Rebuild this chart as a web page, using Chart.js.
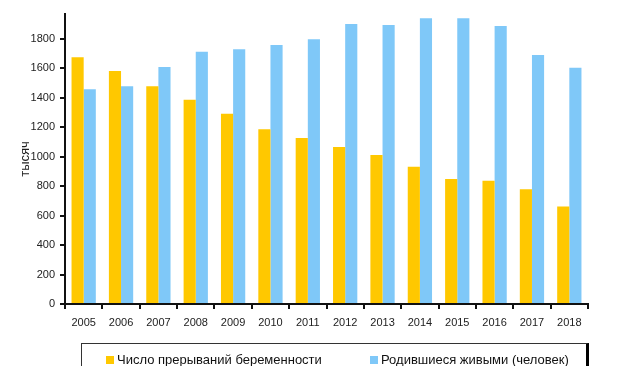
<!DOCTYPE html>
<html>
<head>
<meta charset="utf-8">
<script src="https://cdn.jsdelivr.net/npm/chart.js@4"></script>
<style>
  html, body { margin: 0; padding: 0; background: #fff; }
  #wrap { position: relative; width: 624px; height: 381px; overflow: hidden; }
  #c { position: absolute; left: 0; top: 0; }
  #legend {
    position: absolute; left: 81px; top: 343px; width: 508px; height: 30px;
    border-top: 1px solid #333; border-left: 1px solid #333; border-right: 3px solid #000;
    box-sizing: border-box;
    font-family: "Liberation Sans", Arial, sans-serif; font-size: 13px; color: #111;
  }
  #cut { position: absolute; left: 0; top: 366px; width: 624px; height: 15px; background: #fff; }
  .item { position: absolute; top: 8px; white-space: nowrap; line-height: 15px; }
  .sw { display: inline-block; width: 8px; height: 8px; margin-right: 3px; vertical-align: 0px; }
</style>
</head>
<body>
<div id="wrap">
  <canvas id="c" width="624" height="381"></canvas>
  <div id="legend">
    <div class="item" style="left:24px"><span class="sw" id="sw0"></span><span id="lg0"></span></div>
    <div class="item" style="left:288px"><span class="sw" id="sw1"></span><span id="lg1"></span></div>
  </div>
  <div id="cut"></div>
</div>
<script>
const years = ['2005','2006','2007','2008','2009','2010','2011','2012','2013','2014','2015','2016','2017','2018'];
const abortions = [1676, 1583, 1479, 1388, 1293, 1187, 1128, 1067, 1012, 933, 849, 838, 779, 662];
const births = [1458, 1479, 1610, 1714, 1730, 1759, 1798, 1902, 1895, 1941, 1941, 1888, 1691, 1605];
const yTicks = [0, 200, 400, 600, 800, 1000, 1200, 1400, 1600, 1800];
const seriesNames = ['Число прерываний беременности', 'Родившиеся живыми (человек)'];
const yTitle = 'тысяч';
const colors = ['#FFC800', '#7FC8F8'];

document.getElementById('lg0').textContent = seriesNames[0];
document.getElementById('lg1').textContent = seriesNames[1];
document.getElementById('sw0').style.background = colors[0];
document.getElementById('sw1').style.background = colors[1];

const font = { family: '"Liberation Sans", Arial, sans-serif', size: 11 };

new Chart(document.getElementById('c'), {
  type: 'bar',
  data: {
    labels: years,
    datasets: [
      { label: seriesNames[0], data: abortions, backgroundColor: colors[0], categoryPercentage: 0.65, barPercentage: 1.0 },
      { label: seriesNames[1], data: births, backgroundColor: colors[1], categoryPercentage: 0.65, barPercentage: 1.0 }
    ]
  },
  options: {
    responsive: false,
    animation: false,
    layout: { padding: { left: 0, right: 36, top: 14, bottom: 47 } },
    plugins: { legend: { display: false }, tooltip: { enabled: false } },
    scales: {
      x: {
        grid: { display: true, drawOnChartArea: false, offset: true, tickLength: 5, color: '#111', lineWidth: 2 },
        border: { display: true, color: '#111', width: 2 },
        ticks: { color: '#222', font: font, padding: 7, maxRotation: 0 },
        afterFit: s => { s.height = 30; }
      },
      y: {
        min: 0, max: 1970,
        grid: { display: true, drawOnChartArea: false, tickLength: 5, color: '#111', lineWidth: 2 },
        border: { display: true, color: '#111', width: 2 },
        ticks: { color: '#222', font: font, padding: 5, autoSkip: false, callback: v => String(v) },
        afterBuildTicks: s => { s.ticks = yTicks.map(v => ({ value: v })); },
        title: { display: true, text: yTitle, color: '#222', font: { family: font.family, size: 13 }, padding: { top: 18, bottom: 0 } },
        afterFit: s => { s.width = 65; }
      }
    }
  }
});
</script>
</body>
</html>
